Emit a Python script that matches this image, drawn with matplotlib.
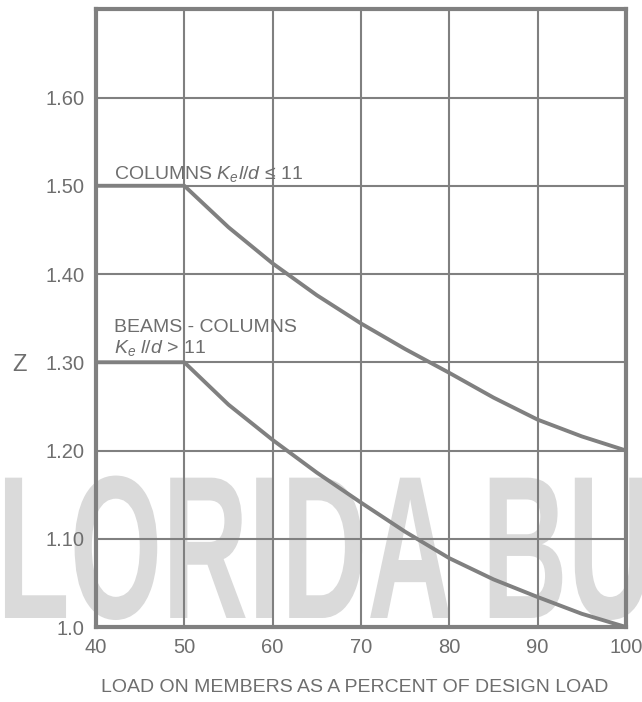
import numpy as np
import matplotlib.pyplot as plt
from matplotlib.textpath import TextPath
from matplotlib.patches import PathPatch
from matplotlib.font_manager import FontProperties
from matplotlib.transforms import Affine2D, IdentityTransform

plt.rcParams['font.family'] = ['Liberation Sans', 'DejaVu Sans']
plt.rcParams['mathtext.fontset'] = 'custom'
plt.rcParams['mathtext.rm'] = 'Liberation Sans'
plt.rcParams['mathtext.it'] = 'Liberation Sans:italic'

# data
load_pct = [40, 50, 55, 60, 65, 70, 75, 80, 85, 90, 95, 100]
z_columns = [1.50, 1.50, 1.453, 1.412, 1.376, 1.344, 1.315, 1.288, 1.260, 1.235, 1.216, 1.200]
z_beam_columns = [1.30, 1.30, 1.252, 1.212, 1.175, 1.141, 1.108, 1.078, 1.054, 1.034, 1.015, 1.000]

x_ticks = [40, 50, 60, 70, 80, 90, 100]
y_ticks = [1.0, 1.1, 1.2, 1.3, 1.4, 1.5, 1.6]
y_tick_labels = ['1.0', '1.10', '1.20', '1.30', '1.40', '1.50', '1.60']

gray = '#808080'
text_gray = '#6e6e6e'

fig = plt.figure(figsize=(6.42, 7.02), dpi=100)

# watermark behind the chart (condensed bold letters, drawn as a path; the F is off the page)
wm = TextPath((0, 0), 'LORIDA BUILDING', size=1,
              prop=FontProperties(family='Liberation Sans', weight='bold'))
sx, sy = 119, 204
wm_tr = Affine2D().scale(sx, sy).translate(-3, 84) + IdentityTransform()
fig.patches.append(PathPatch(wm, transform=wm_tr, facecolor='#dadada',
                             edgecolor='none', zorder=0))

ax = fig.add_axes([0.1495, 0.1068, 0.8255, 0.880])
ax.set_facecolor('none')
ax.set_zorder(1)

ax.plot(load_pct, z_columns, color=gray, lw=2.8, solid_capstyle='butt', zorder=3, clip_on=False)
ax.plot(load_pct, z_beam_columns, color=gray, lw=2.8, solid_capstyle='butt', zorder=3, clip_on=False)

ax.set_xlim(40, 100)
ax.set_ylim(1.0, 1.7)
ax.set_xticks(x_ticks)
ax.set_yticks(y_ticks)
ax.set_yticklabels(y_tick_labels)
ax.grid(True, color=gray, lw=1.5)
ax.set_axisbelow(True)
ax.tick_params(length=0, labelsize=14.5, labelcolor=text_gray, pad=8)

for s in ax.spines.values():
    s.set_color(gray)
    s.set_linewidth(3)

ax.text(42.0, 1.508, 'COLUMNS $K_e l/d$ \u2264 11', fontsize=14, color=text_gray)
ax.text(42.0, 1.334, 'BEAMS - COLUMNS', fontsize=14, color=text_gray)
ax.text(42.0, 1.311, '$K_e$ $l/d$ > 11', fontsize=14, color=text_gray)

fig.text(0.03, 0.48, 'Z', fontsize=17, color=text_gray, ha='center', va='center')
fig.text(0.553, 0.02, 'LOAD ON MEMBERS AS A PERCENT OF DESIGN LOAD', fontsize=14,
         color=text_gray, ha='center', va='center')

fig.savefig('out.png', dpi=100)
